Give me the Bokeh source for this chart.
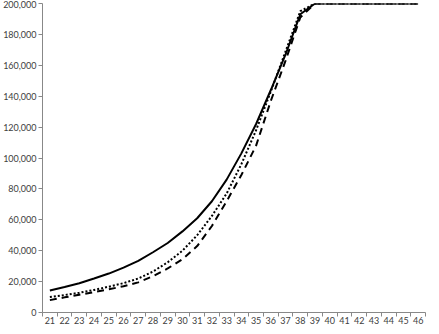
from bokeh.plotting import figure
from bokeh.models import Range1d, FixedTicker, NumeralTickFormatter
from bokeh.embed import file_html
from bokeh.resources import INLINE

ages = list(range(21, 47))
solid = [14300, 16500, 18900, 22000, 25200, 29000, 33400, 39000, 45000, 52500,
         61000, 72000, 86000, 103000, 122000, 144000, 167000, 193000,
         200000, 200000, 200000, 200000, 200000, 200000, 200000, 200000]
dotted = [10000, 11300, 12800, 14600, 16700, 19000, 22000, 26500, 32500, 40000,
          50000, 62500, 77000, 96000, 118000, 143000, 169000, 195000,
          200000, 200000, 200000, 200000, 200000, 200000, 200000, 200000]
dashed = [8000, 9800, 11500, 13200, 15000, 17000, 19500, 23500, 28500, 34500,
          43000, 56000, 72000, 89000, 108000, 137000, 163000, 191000,
          200000, 200000, 200000, 200000, 200000, 200000, 200000, 200000]
y_ticks = list(range(0, 200001, 20000))

p = figure(width=431, height=326, output_backend="svg", toolbar_location=None,
           x_range=Range1d(20.5, 46.5), y_range=Range1d(0, 200000),
           min_border_left=35, min_border_right=6, min_border_top=3,
           min_border_bottom=0)
p.outline_line_color = None
p.grid.grid_line_color = None

p.line(ages, dashed, line_color="black", line_width=2, line_dash="7 5")
p.line(ages, dotted, line_color="black", line_width=2, line_dash="2 2")
p.line(ages, solid, line_color="black", line_width=2)

font = "Lato"
xa = p.xaxis[0]
xa.ticker = FixedTicker(ticks=ages, minor_ticks=[a - 0.5 for a in ages] + [46.5])
xa.major_tick_line_color = None
xa.major_tick_out = 0
xa.major_tick_in = 0
xa.minor_tick_line_color = "#888888"
xa.minor_tick_in = 0
xa.minor_tick_out = 4
xa.axis_line_color = "#888888"
xa.major_label_text_font = font
xa.major_label_text_font_size = "9px"
xa.major_label_text_color = "#404040"
xa.major_label_standoff = 0

ya = p.yaxis[0]
ya.ticker = FixedTicker(ticks=y_ticks)
ya.formatter = NumeralTickFormatter(format="0,0")
ya.minor_tick_line_color = None
ya.major_tick_in = 0
ya.major_tick_out = 4
ya.major_tick_line_color = "#888888"
ya.axis_line_color = "#888888"
ya.major_label_text_font = font
ya.major_label_text_font_size = "9px"
ya.major_label_text_color = "#404040"
ya.major_label_standoff = 2

open("out.html", "w").write(file_html(p, INLINE))
